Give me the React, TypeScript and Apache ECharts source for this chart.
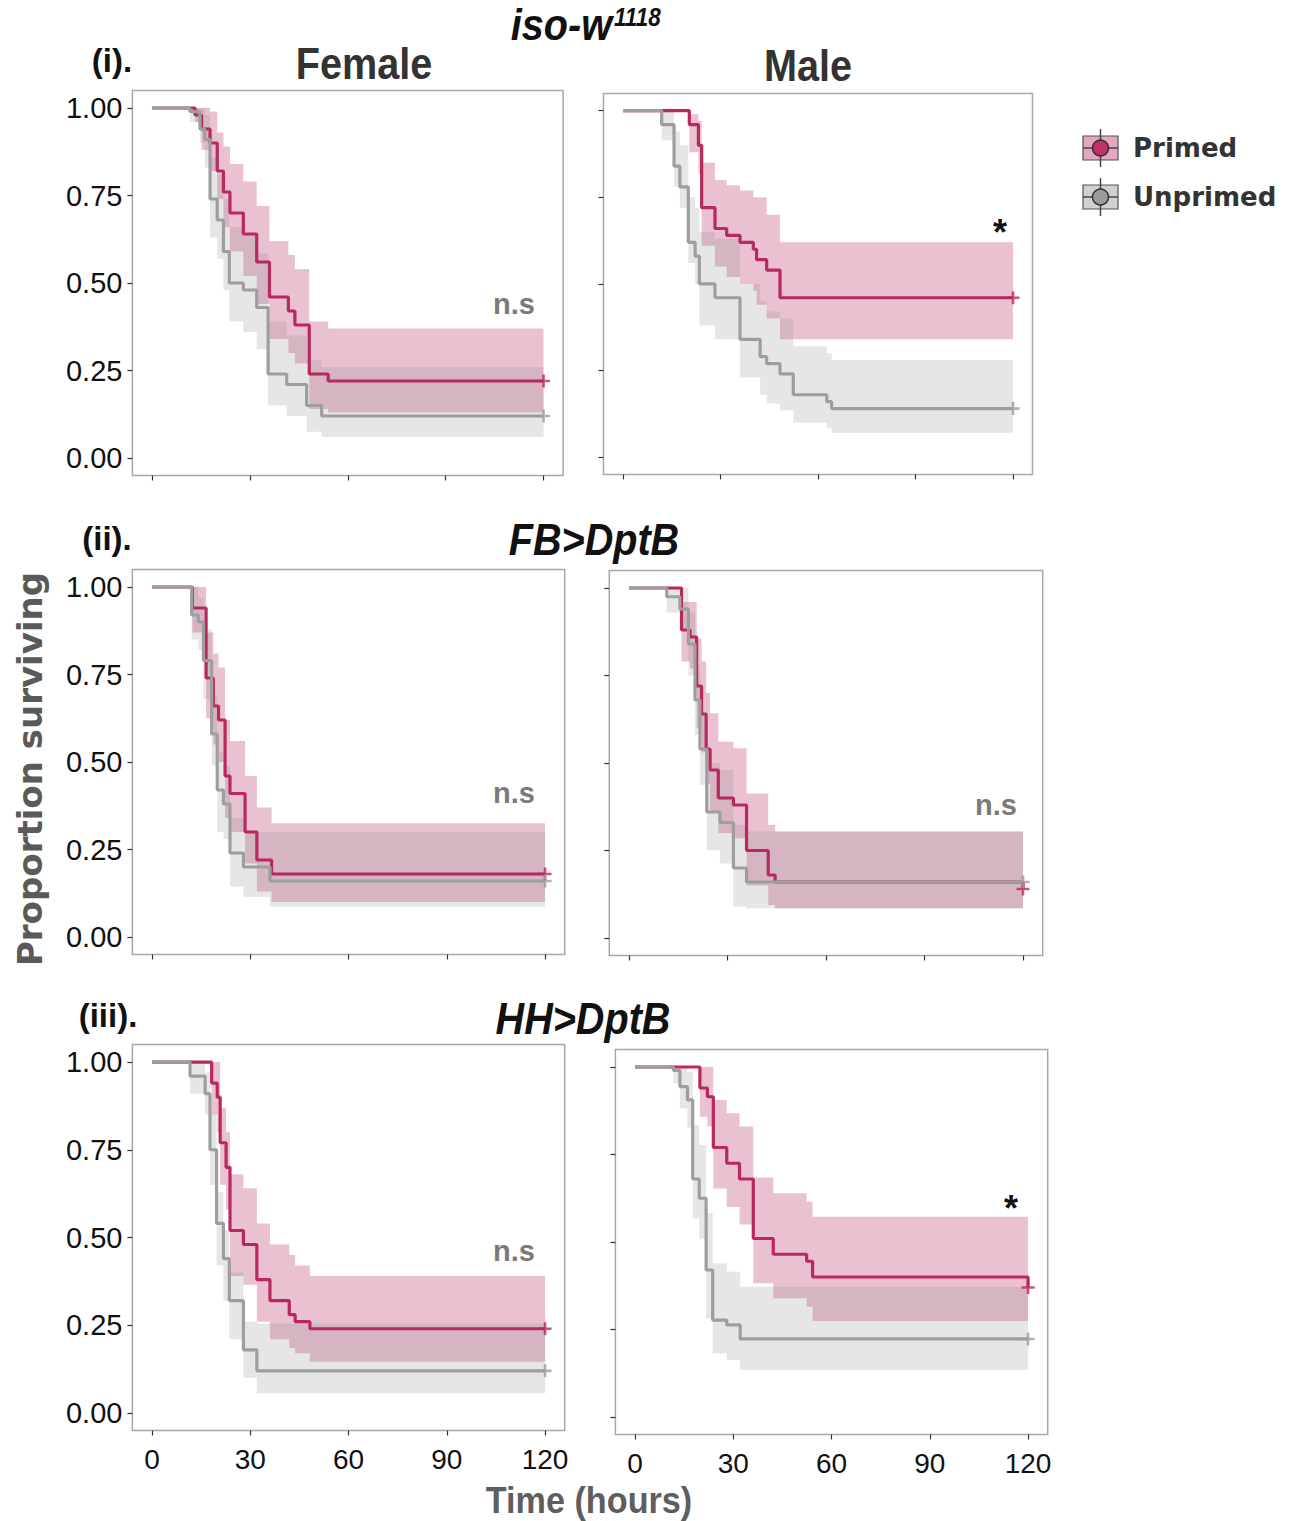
import React, { useEffect, useRef } from "react";
import * as echarts from "echarts";

// ---------- axis ticks ----------
const TIME_TICKS = [0, 30, 60, 90, 120];
const SURV_TICKS = [0, 0.25, 0.5, 0.75, 1];
const END_TIME = 120;

// ---------- (i) iso-w1118 Female ----------
const isoF_P_time = [0, 13.2, 15.2, 17.8, 20.0, 21.9, 23.9, 28.0, 32.1, 36.0, 41.8, 43.8, 48.2, 54.0];
const isoF_P_surv = [1, 0.98, 0.94, 0.9, 0.82, 0.76, 0.7, 0.64, 0.56, 0.46, 0.42, 0.38, 0.24, 0.22];
const isoF_P_upper = [1, 1, 1, 0.99, 0.93, 0.89, 0.84, 0.79, 0.72, 0.62, 0.58, 0.54, 0.39, 0.37];
const isoF_P_lower = [1, 0.96, 0.88, 0.82, 0.74, 0.66, 0.59, 0.52, 0.44, 0.34, 0.3, 0.27, 0.14, 0.13];

const isoF_U_time = [0, 11.6, 14.7, 16.2, 17.8, 20.0, 21.9, 23.7, 28.0, 32.1, 35.6, 41.3, 47.4, 52.0];
const isoF_U_surv = [1, 0.99, 0.94, 0.91, 0.74, 0.68, 0.59, 0.5, 0.48, 0.43, 0.24, 0.21, 0.15, 0.12];
const isoF_U_upper = [1, 1, 1, 0.98, 0.86, 0.81, 0.74, 0.66, 0.64, 0.585, 0.39, 0.35, 0.28, 0.26];
const isoF_U_lower = [1, 0.96, 0.9, 0.83, 0.63, 0.57, 0.48, 0.39, 0.36, 0.31, 0.15, 0.12, 0.075, 0.06];

// ---------- (i) iso-w1118 Male ----------
const isoM_P_time = [0, 20.4, 23.2, 24.2, 28.3, 31.9, 36.0, 40.1, 41.1, 44.2, 48.3];
const isoM_P_surv = [1, 0.96, 0.9, 0.72, 0.66, 0.64, 0.62, 0.6, 0.57, 0.54, 0.46];
const isoM_P_upper = [1, 0.99, 0.97, 0.85, 0.8, 0.785, 0.77, 0.75, 0.75, 0.7, 0.62];
const isoM_P_lower = [1, 0.88, 0.82, 0.61, 0.55, 0.52, 0.5, 0.48, 0.44, 0.4, 0.34];

const isoM_U_time = [0, 11.9, 15.7, 17.5, 20.1, 22.2, 23.5, 28.3, 36.0, 42.2, 44.2, 48.3, 52.4, 62.7, 64.2];
const isoM_U_surv = [1, 0.96, 0.84, 0.78, 0.62, 0.58, 0.5, 0.46, 0.34, 0.29, 0.27, 0.24, 0.18, 0.16, 0.14];
const isoM_U_upper = [1, 1, 0.94, 0.9, 0.75, 0.72, 0.65, 0.63, 0.5, 0.45, 0.42, 0.4, 0.32, 0.3, 0.28];
const isoM_U_lower = [1, 0.915, 0.78, 0.72, 0.56, 0.5, 0.38, 0.34, 0.23, 0.18, 0.155, 0.135, 0.1, 0.085, 0.07];

// ---------- (ii) FB>DptB Female ----------
const fbF_P_time = [0, 12.3, 16.5, 18.7, 20.3, 22.3, 23.8, 28.4, 32.0, 36.5];
const fbF_P_surv = [1, 0.94, 0.74, 0.66, 0.62, 0.46, 0.41, 0.3, 0.22, 0.18];
const fbF_P_upper = [1, 1, 0.87, 0.81, 0.77, 0.62, 0.56, 0.46, 0.37, 0.325];
const fbF_P_lower = [1, 0.87, 0.625, 0.55, 0.5, 0.34, 0.3, 0.21, 0.13, 0.1];

const fbF_U_time = [0, 12.1, 14.1, 15.7, 18.2, 19.9, 21.8, 23.8, 27.9, 36.0];
const fbF_U_surv = [1, 0.92, 0.9, 0.79, 0.58, 0.42, 0.38, 0.24, 0.2, 0.16];
const fbF_U_upper = [1, 1, 0.97, 0.88, 0.69, 0.53, 0.49, 0.34, 0.3, 0.3];
const fbF_U_lower = [1, 0.85, 0.82, 0.68, 0.49, 0.3, 0.28, 0.144, 0.115, 0.087];

// ---------- (ii) FB>DptB Male ----------
const fbM_P_time = [0, 16.0, 18.6, 20.6, 22.1, 23.5, 24.7, 27.2, 31.8, 35.8, 42.4, 44.5];
const fbM_P_surv = [1, 0.88, 0.86, 0.72, 0.64, 0.54, 0.48, 0.4, 0.38, 0.25, 0.18, 0.16];
const fbM_P_upper = [1, 0.96, 0.96, 0.856, 0.79, 0.7, 0.642, 0.561, 0.542, 0.413, 0.323, 0.304];
const fbM_P_lower = [1, 0.79, 0.77, 0.6, 0.53, 0.44, 0.36, 0.3, 0.285, 0.15, 0.094, 0.085];
const fbM_P_final = 0.14;

const fbM_U_time = [0, 11.5, 15.5, 18.1, 20.1, 21.6, 23.7, 27.7, 31.8, 35.8];
const fbM_U_surv = [1, 0.975, 0.94, 0.84, 0.68, 0.54, 0.36, 0.33, 0.2, 0.16];
const fbM_U_upper = [1, 1, 1, 0.93, 0.78, 0.647, 0.5, 0.48, 0.323, 0.304];
const fbM_U_lower = [1, 0.93, 0.885, 0.75, 0.58, 0.437, 0.251, 0.213, 0.09, 0.085];

// ---------- (iii) HH>DptB Female ----------
const hhF_P_time = [0, 18.2, 19.9, 20.8, 22.6, 23.8, 27.9, 32.0, 36.0, 41.9, 43.7, 48.2];
const hhF_P_surv = [1, 0.94, 0.9, 0.77, 0.7, 0.52, 0.48, 0.38, 0.32, 0.28, 0.26, 0.24];
const hhF_P_upper = [1, 1, 1, 0.87, 0.8, 0.68, 0.64, 0.54, 0.48, 0.45, 0.42, 0.39];
const hhF_P_lower = [1, 0.85, 0.8, 0.65, 0.58, 0.39, 0.365, 0.26, 0.21, 0.185, 0.17, 0.146];

const hhF_U_time = [0, 11.6, 16.2, 17.7, 19.7, 21.8, 23.6, 27.9, 32.0];
const hhF_U_surv = [1, 0.96, 0.91, 0.75, 0.54, 0.44, 0.32, 0.18, 0.12];
const hhF_U_upper = [1, 1, 0.97, 0.85, 0.63, 0.52, 0.4, 0.26, 0.255];
const hhF_U_lower = [1, 0.91, 0.85, 0.65, 0.42, 0.32, 0.21, 0.1, 0.056];

// ---------- (iii) HH>DptB Male ----------
const hhM_P_time = [0, 19.8, 22.1, 23.9, 28.0, 31.9, 36.1, 42.2, 52.4, 54.2];
const hhM_P_surv = [1, 0.94, 0.915, 0.77, 0.725, 0.68, 0.51, 0.465, 0.445, 0.4];
const hhM_P_upper = [1, 1, 1, 0.906, 0.868, 0.83, 0.684, 0.639, 0.615, 0.572];
const hhM_P_lower = [1, 0.858, 0.83, 0.653, 0.6, 0.55, 0.382, 0.339, 0.315, 0.274];
const hhM_P_final = 0.37;

const hhM_U_time = [0, 11.7, 13.7, 16.0, 17.6, 19.6, 21.7, 23.7, 28.0, 32.1];
const hhM_U_surv = [1, 0.99, 0.944, 0.906, 0.68, 0.625, 0.42, 0.277, 0.263, 0.223];
const hhM_U_upper = [1, 1, 1, 0.987, 0.834, 0.777, 0.582, 0.439, 0.415, 0.372];
const hhM_U_lower = [1, 0.953, 0.882, 0.825, 0.568, 0.51, 0.282, 0.182, 0.163, 0.134];

// ---------- labels ----------
const SIG_LABELS = ["n.s", "*", "n.s", "n.s", "n.s", "*"];
const GROUP_NAMES = ["Primed", "Unprimed"];

type Group = { t: number[]; s: number[]; hi: number[]; lo: number[]; fin?: number };
const mk = (t: number[], s: number[], hi: number[], lo: number[], fin?: number): Group => ({ t, s, hi, lo, fin });

const PANEL_DATA: { p: Group; u: Group }[] = [
  { p: mk(isoF_P_time, isoF_P_surv, isoF_P_upper, isoF_P_lower), u: mk(isoF_U_time, isoF_U_surv, isoF_U_upper, isoF_U_lower) },
  { p: mk(isoM_P_time, isoM_P_surv, isoM_P_upper, isoM_P_lower), u: mk(isoM_U_time, isoM_U_surv, isoM_U_upper, isoM_U_lower) },
  { p: mk(fbF_P_time, fbF_P_surv, fbF_P_upper, fbF_P_lower), u: mk(fbF_U_time, fbF_U_surv, fbF_U_upper, fbF_U_lower) },
  { p: mk(fbM_P_time, fbM_P_surv, fbM_P_upper, fbM_P_lower, fbM_P_final), u: mk(fbM_U_time, fbM_U_surv, fbM_U_upper, fbM_U_lower) },
  { p: mk(hhF_P_time, hhF_P_surv, hhF_P_upper, hhF_P_lower), u: mk(hhF_U_time, hhF_U_surv, hhF_U_upper, hhF_U_lower) },
  { p: mk(hhM_P_time, hhM_P_surv, hhM_P_upper, hhM_P_lower, hhM_P_final), u: mk(hhM_U_time, hhM_U_surv, hhM_U_upper, hhM_U_lower) },
];

// ---------- layout (pixels) ----------
const PANEL_LAYOUT = [
  { left: 132.4, top: 90.5, width: 430.7, height: 385, yLab: true, xLab: false, sig: [514, 304] },
  { left: 603.5, top: 93.4, width: 429, height: 381, yLab: false, xLab: false, sig: [1000, 232] },
  { left: 132.4, top: 569.5, width: 432.3, height: 385, yLab: true, xLab: false, sig: [514, 793] },
  { left: 609.3, top: 570.5, width: 433.4, height: 385, yLab: false, xLab: false, sig: [996, 805] },
  { left: 132.4, top: 1044.5, width: 432.3, height: 386, yLab: true, xLab: true, sig: [514, 1251] },
  { left: 615.4, top: 1049.5, width: 432.3, height: 385, yLab: false, xLab: true, sig: [1011, 1208] },
];

const RED = "#b8295f";
const GREY = "#9e9e9e";
const RED_BAND = "rgba(178,34,90,0.28)";
const GREY_BAND = "rgba(140,140,140,0.22)";
const ARIAL = '"Liberation Sans", Arial, Helvetica, sans-serif';
const DEJAVU = '"DejaVu Sans", Verdana, sans-serif';
const PLUS = "path://M4,0h2v4h4v2h-4v4h-2v-4h-4v-2h4z";

function bandSeries(idx: number, g: Group, fill: string) {
  return {
    type: "custom",
    coordinateSystem: "cartesian2d",
    xAxisIndex: idx,
    yAxisIndex: idx,
    silent: true,
    z: 1,
    data: [[0, 1]],
    renderItem: (_params: any, api: any) => {
      const n = g.t.length;
      const pts: number[][] = [];
      for (let i = 0; i < n; i++) {
        const t1 = i + 1 < n ? g.t[i + 1] : END_TIME;
        pts.push(api.coord([g.t[i], g.hi[i]]));
        pts.push(api.coord([t1, g.hi[i]]));
      }
      for (let i = n - 1; i >= 0; i--) {
        const t1 = i + 1 < n ? g.t[i + 1] : END_TIME;
        pts.push(api.coord([t1, g.lo[i]]));
        pts.push(api.coord([g.t[i], g.lo[i]]));
      }
      return { type: "polygon", shape: { points: pts }, style: { fill, stroke: null } };
    },
  };
}

function lineSeries(idx: number, g: Group, color: string, name: string) {
  const last = g.fin !== undefined ? g.fin : g.s[g.s.length - 1];
  const data = g.t.map((t, i) => [t, g.s[i]]);
  data.push([END_TIME, last]);
  return {
    type: "line",
    name,
    xAxisIndex: idx,
    yAxisIndex: idx,
    step: "end",
    symbol: "none",
    showSymbol: false,
    silent: true,
    z: 3,
    data,
    lineStyle: { color, width: 3.2 },
  };
}

function censorSeries(idx: number, g: Group, color: string) {
  const last = g.fin !== undefined ? g.fin : g.s[g.s.length - 1];
  return {
    type: "scatter",
    xAxisIndex: idx,
    yAxisIndex: idx,
    silent: true,
    z: 4,
    symbol: PLUS,
    symbolSize: 13,
    itemStyle: { color },
    data: [[END_TIME, last]],
  };
}

function txt(text: string, x: number, y: number, font: string, fill: string, align = "center", extra: any = {}) {
  return {
    type: "text",
    x,
    y,
    z: 100,
    ...extra,
    style: { text, font, fill, align, textAlign: align, verticalAlign: "middle", textVerticalAlign: "middle" },
  };
}

export default function App() {
  const ref = useRef<HTMLDivElement>(null);
  useEffect(() => {
    if (!ref.current) return;
    const chart = echarts.init(ref.current, undefined, { renderer: "svg" });

    const grid = PANEL_LAYOUT.map((l) => ({
      left: l.left,
      top: l.top,
      width: l.width,
      height: l.height,
      show: true,
      borderColor: "#a8a8a8",
      borderWidth: 1.5,
      backgroundColor: "#ffffff",
    }));

    const xAxis = PANEL_LAYOUT.map((l, i) => ({
      type: "value",
      gridIndex: i,
      min: -6,
      max: 126,
      splitLine: { show: false },
      axisLine: { show: false, onZero: false },
      axisTick: { show: true, inside: false, length: 5, customValues: TIME_TICKS, lineStyle: { color: "#333", width: 1.2 } },
      axisLabel: {
        show: l.xLab,
        customValues: TIME_TICKS,
        margin: 15,
        fontSize: 28,
        fontFamily: ARIAL,
        color: "#111",
      },
    }));

    const yAxis = PANEL_LAYOUT.map((l, i) => ({
      type: "value",
      gridIndex: i,
      min: -0.05,
      max: 1.05,
      splitLine: { show: false },
      axisLine: { show: false, onZero: false },
      axisTick: { show: true, inside: false, length: 5, customValues: SURV_TICKS, lineStyle: { color: "#333", width: 1.2 } },
      axisLabel: {
        show: l.yLab,
        customValues: SURV_TICKS,
        margin: 10,
        fontSize: 29,
        fontFamily: ARIAL,
        color: "#111",
        formatter: (v: number) => v.toFixed(2),
      },
    }));

    const series: any[] = [];
    PANEL_DATA.forEach((d, i) => {
      series.push(bandSeries(i, d.p, RED_BAND));
      series.push(bandSeries(i, d.u, GREY_BAND));
      series.push(lineSeries(i, d.p, RED, GROUP_NAMES[0]));
      series.push(lineSeries(i, d.u, GREY, GROUP_NAMES[1]));
      series.push(censorSeries(i, d.p, RED));
      series.push(censorSeries(i, d.u, GREY));
    });

    const titleFont = `bold 44px ${ARIAL}`;
    const titleIt = `italic bold 44px ${ARIAL}`;
    const panelTag = `bold 33px ${ARIAL}`;
    const graphic: any[] = [
      txt("iso-w", 612, 25, titleIt, "#111", "right", { scaleX: 0.9 }),
      txt("1118", 614, 17, `italic bold 25px ${ARIAL}`, "#111", "left", { scaleX: 0.9 }),
      txt("(i).", 112, 60, panelTag, "#111"),
      txt("Female", 364, 64, titleFont, "#333", "center", { scaleX: 0.9 }),
      txt("Male", 808, 66, titleFont, "#333", "center", { scaleX: 0.9 }),
      txt("(ii).", 107, 538, panelTag, "#111"),
      txt("FB>DptB", 594, 540, titleIt, "#111", "center", { scaleX: 0.9 }),
      txt("(iii).", 108, 1015, panelTag, "#111"),
      txt("HH>DptB", 583, 1019, titleIt, "#111", "center", { scaleX: 0.9 }),
      txt("Proportion surviving", 30, 769, `bold 34px ${DEJAVU}`, "#5a5a5a", "center", { rotation: Math.PI / 2 }),
      txt("Time (hours)", 589, 1500, `bold 36px ${ARIAL}`, "#5e5e5e", "center", { scaleX: 0.95 }),
    ];
    PANEL_LAYOUT.forEach((l, i) => {
      const s = SIG_LABELS[i];
      if (s === "*") graphic.push(txt(s, l.sig[0], l.sig[1], `bold 36px ${ARIAL}`, "#111"));
      else graphic.push(txt(s, l.sig[0], l.sig[1], `bold 29px ${ARIAL}`, "#7a7a7a"));
    });

    // legend
    const legendItems = [
      { name: GROUP_NAMES[0], cy: 148, fill: "rgba(200,60,120,0.45)", dot: "#c0306a" },
      { name: GROUP_NAMES[1], cy: 197, fill: "rgba(140,140,140,0.4)", dot: "#9a9a9a" },
    ];
    legendItems.forEach((it) => {
      graphic.push({ type: "rect", z: 100, shape: { x: 1083, y: it.cy - 12, width: 35, height: 24 }, style: { fill: it.fill, stroke: "#555", lineWidth: 1.2 } });
      graphic.push({ type: "line", z: 101, shape: { x1: 1083, y1: it.cy, x2: 1118, y2: it.cy }, style: { stroke: "#444", lineWidth: 1.5 } });
      graphic.push({ type: "line", z: 101, shape: { x1: 1100.5, y1: it.cy - 19, x2: 1100.5, y2: it.cy + 19 }, style: { stroke: "#444", lineWidth: 1.5 } });
      graphic.push({ type: "circle", z: 102, shape: { cx: 1100.5, cy: it.cy, r: 8 }, style: { fill: it.dot, stroke: "#333", lineWidth: 1.5 } });
      graphic.push(txt(it.name, 1133, it.cy, `bold 26px ${DEJAVU}`, "#333", "left"));
    });

    chart.setOption({
      animation: false,
      backgroundColor: "#ffffff",
      grid,
      xAxis,
      yAxis,
      series,
      graphic,
    });
    return () => chart.dispose();
  }, []);

  return <div ref={ref} style={{ position: "absolute", left: 0, top: 0, width: 1295, height: 1521 }} />;
}
